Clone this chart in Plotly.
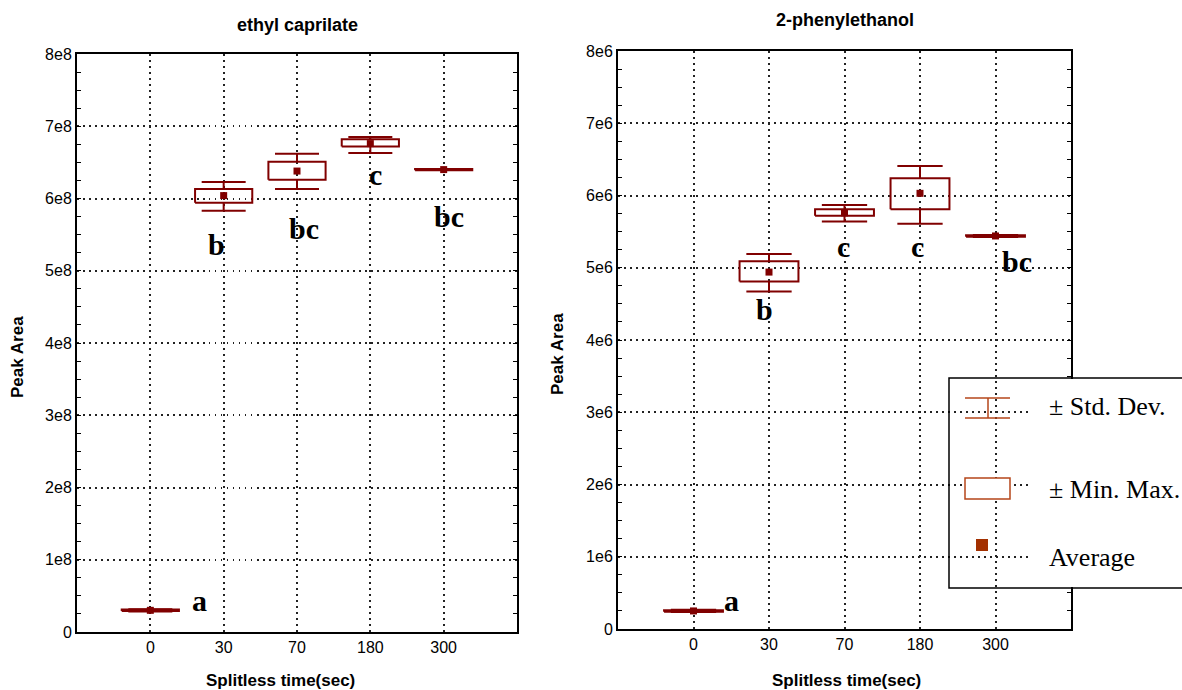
import plotly.graph_objects as go

W, H = 1182, 690

categories = ["0", "30", "70", "180", "300"]

# ethyl caprilate (peak area, x1e8)
ec_mean = [0.30, 6.04, 6.38, 6.76, 6.40]
ec_box_lo = [0.29, 5.94, 6.26, 6.72, 6.39]
ec_box_hi = [0.31, 6.13, 6.51, 6.82, 6.41]
ec_wh_lo = [0.285, 5.83, 6.13, 6.63, 6.395]
ec_wh_hi = [0.315, 6.23, 6.62, 6.85, 6.405]
ec_letters = ["a", "b", "bc", "c", "bc"]
ec_letter_x = [0.67, 0.90, 2.10, 3.07, 4.07]
ec_letter_y = [0.43, 5.36, 5.58, 6.33, 5.75]

# 2-phenylethanol (peak area, x1e6)
pe_mean = [0.25, 4.94, 5.76, 6.03, 5.44]
pe_box_lo = [0.24, 4.81, 5.72, 5.81, 5.43]
pe_box_hi = [0.26, 5.09, 5.81, 6.24, 5.45]
pe_wh_lo = [0.235, 4.67, 5.64, 5.61, 5.425]
pe_wh_hi = [0.265, 5.19, 5.87, 6.41, 5.455]
pe_letters = ["a", "b", "c", "c", "bc"]
pe_letter_x = [0.50, 0.94, 1.99, 2.97, 4.29]
pe_letter_y = [0.39, 4.42, 5.30, 5.30, 5.09]

y_ticks = [0, 1, 2, 3, 4, 5, 6, 7, 8]

RED = "#800000"
LEG = "#B5461A"


def px(x):
    return x / W


def py(y):
    return 1 - y / H


fig = go.Figure()


def add_series(scale, mean, blo, bhi, wlo, whi, xa, ya):
    bw, cw = 0.39, 0.30
    for i in range(len(categories)):
        fig.add_trace(go.Scatter(
            x=[i - cw, i + cw, None, i, i, None, i, i, None, i - cw, i + cw],
            y=[whi[i] * scale, whi[i] * scale, None, whi[i] * scale, bhi[i] * scale, None,
               blo[i] * scale, wlo[i] * scale, None, wlo[i] * scale, wlo[i] * scale],
            mode="lines", line=dict(color=RED, width=2), xaxis=xa, yaxis=ya,
            showlegend=False, hoverinfo="skip"))
        fig.add_trace(go.Scatter(
            x=[i - bw, i + bw, i + bw, i - bw, i - bw],
            y=[blo[i] * scale, blo[i] * scale, bhi[i] * scale, bhi[i] * scale, blo[i] * scale],
            mode="lines", line=dict(color=RED, width=2), xaxis=xa, yaxis=ya,
            showlegend=False, hoverinfo="skip"))
    fig.add_trace(go.Scatter(
        x=list(range(len(categories))), y=[m * scale for m in mean], mode="markers",
        marker=dict(symbol="square", size=7, color=RED), xaxis=xa, yaxis=ya,
        showlegend=False))


add_series(1e8, ec_mean, ec_box_lo, ec_box_hi, ec_wh_lo, ec_wh_hi, "x", "y")
add_series(1e6, pe_mean, pe_box_lo, pe_box_hi, pe_wh_lo, pe_wh_hi, "x2", "y2")

tickfont = dict(family="Liberation Sans, Arial", size=16, color="black")
GRID = dict(showgrid=True, gridcolor="#222", griddash="1.5px,4.5px", gridwidth=1.5)


def xaxis(domain, anchor):
    return dict(domain=domain, anchor=anchor, range=[-1, 5],
                tickvals=list(range(len(categories))), ticktext=categories,
                showline=True, linecolor="black", linewidth=2, mirror=True,
                ticks="", tickfont=tickfont, zeroline=False, automargin=False, **GRID)


def yaxis(domain, anchor, scale, suffix):
    return dict(domain=domain, anchor=anchor, range=[0, 8 * scale],
                tickvals=[t * scale for t in y_ticks],
                ticktext=["0"] + [f"{t}{suffix}" for t in y_ticks[1:]],
                showline=True, linecolor="black", linewidth=2, mirror="allticks",
                ticks="inside", ticklen=4, tickcolor="black",
                minor=dict(ticks="inside", ticklen=4, dtick=0.25 * scale, tickcolor="black", showgrid=False),
                tickfont=tickfont, zeroline=False, automargin=False, **GRID)


fig.update_layout(
    width=W, height=H, margin=dict(l=0, r=0, t=0, b=0, pad=0, autoexpand=False),
    paper_bgcolor="white", plot_bgcolor="white", showlegend=False,
    xaxis=xaxis([px(77), px(517)], "y"),
    yaxis=yaxis([py(632), py(54)], "x", 1e8, "e8"),
    xaxis2=xaxis([px(618), px(1071)], "y2"),
    yaxis2=yaxis([py(629), py(51)], "x2", 1e6, "e6"),
)

ann = []


def pann(text, x, y, font, **kw):
    d = dict(text=text, x=px(x), y=py(y), xref="paper", yref="paper", showarrow=False,
             font=font, xanchor="center", yanchor="middle")
    d.update(kw)
    ann.append(d)


title_font = dict(family="Liberation Sans, Arial", size=18, color="black")
pann("<b>ethyl caprilate</b>", 297, 25, title_font)
pann("<b>2-phenylethanol</b>", 845, 20, title_font)
axfont = dict(family="Liberation Sans, Arial", size=17, color="black")
pann("<b>Splitless time(sec)</b>", 280, 680, axfont)
pann("<b>Splitless time(sec)</b>", 846, 680, axfont)
pann("<b>Peak Area</b>", 17, 357, axfont, textangle=-90)
pann("<b>Peak Area</b>", 557, 354, axfont, textangle=-90)

letter_font = dict(family="Liberation Serif, Times New Roman", size=30, color="black")
for t, x, y in zip(ec_letters, ec_letter_x, ec_letter_y):
    ann.append(dict(text=f"<b>{t}</b>", x=x, y=y * 1e8, xref="x", yref="y", showarrow=False,
                    font=letter_font, xanchor="center", yanchor="middle"))
for t, x, y in zip(pe_letters, pe_letter_x, pe_letter_y):
    ann.append(dict(text=f"<b>{t}</b>", x=x, y=y * 1e6, xref="x2", yref="y2", showarrow=False,
                    font=letter_font, xanchor="center", yanchor="middle"))

leg_font = dict(family="Liberation Serif, Times New Roman", size=26, color="black")
for txt, yy in [("± Std. Dev.", 406), ("± Min. Max.", 489), ("Average", 557)]:
    pann(txt, 1047, yy, leg_font, xanchor="left")
fig.update_layout(annotations=ann)

shapes = []
shapes.append(dict(type="rect", xref="paper", yref="paper", x0=px(1030), x1=px(1182), y0=py(587), y1=py(379),
                   fillcolor="white", line=dict(width=0), layer="above"))
shapes.append(dict(type="rect", xref="paper", yref="paper", x0=px(949), x1=px(1200), y0=py(588), y1=py(378),
                   fillcolor="rgba(0,0,0,0)", line=dict(color="black", width=1.5), layer="above"))
for x0, x1, y0, y1 in [(965, 1010, 398, 398), (965, 1010, 418, 418), (988, 988, 398, 418)]:
    shapes.append(dict(type="line", xref="paper", yref="paper", x0=px(x0), x1=px(x1), y0=py(y0), y1=py(y1),
                       line=dict(color=LEG, width=1.5), layer="above"))
shapes.append(dict(type="rect", xref="paper", yref="paper", x0=px(965), x1=px(1010), y0=py(499), y1=py(478),
                   fillcolor="white", line=dict(color=LEG, width=1.5), layer="above"))
shapes.append(dict(type="rect", xref="paper", yref="paper", x0=px(976), x1=px(988), y0=py(551), y1=py(539),
                   fillcolor="#A33000", line=dict(width=0), layer="above"))
fig.update_layout(shapes=shapes)

fig.write_html("out.html", config={"displayModeBar": False},
               post_script="document.body.style.margin='0';document.body.style.overflow='hidden';")
